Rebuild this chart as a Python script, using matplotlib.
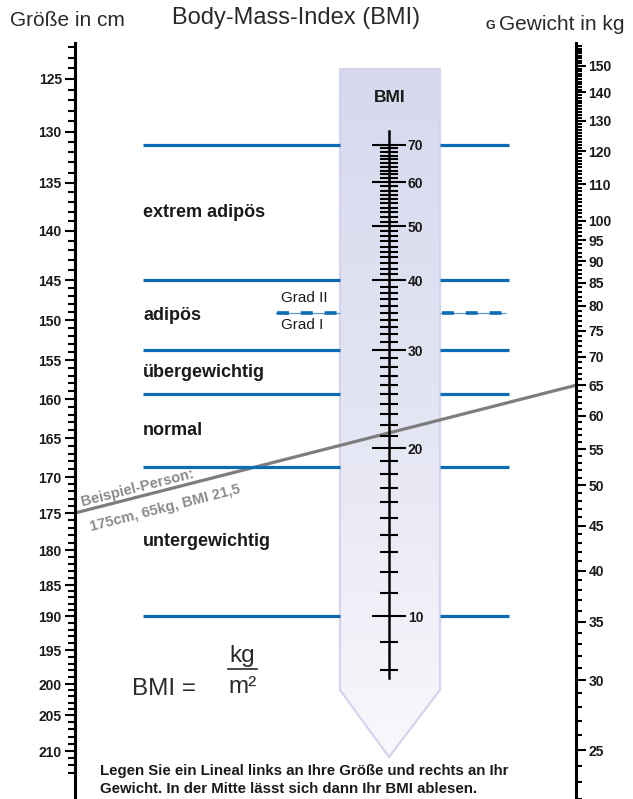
import numpy as np
import matplotlib.pyplot as plt
from matplotlib.patches import Polygon
from matplotlib.colors import LinearSegmentedColormap
from matplotlib.ticker import NullFormatter

plt.rcParams['font.family'] = ['Liberation Sans', 'DejaVu Sans']

# --- Werte der drei Skalen ---
height_labels = [125, 130, 135, 140, 145, 150, 155, 160, 165, 170,
                 175, 180, 185, 190, 195, 200, 205, 210]
weight_labels = [25, 30, 35, 40, 45, 50, 55, 60, 65, 70, 75, 80, 85, 90, 95,
                 100, 110, 120, 130, 140, 150]
bmi_labels = [10, 20, 30, 40, 50, 60, 70]

# Kategoriegrenzen (BMI) und Namen
bmi_bounds = [70, 40, 30, 25, 18.5, 10]
bmi_grad = 35
categories = ['extrem adipös', 'adipös', 'übergewichtig', 'normal', 'untergewichtig']

# Beispiel-Person
example_height = 175
example_weight = 65
example_bmi = 21.5

# --- Layout (Pixel, Ursprung oben links) ---
W, H = 633, 799
X_H, X_B, X_W = 75, 389, 576
# Lage der Größen-Beschriftungen (Skala ist im Original nicht ganz logarithmisch)
HEIGHT_PX = [79, 131.7, 182.7, 230.7, 280, 320, 360, 399, 438, 477,
             513, 550, 585, 616, 650, 684, 715, 751]
BLUE = '#0b6cb4'
GREY = '#7d7d7d'
TXT = '#1a1a1a'

hv = np.array(height_labels, float)
hp = np.array(HEIGHT_PX, float)
s_lo = (hp[1] - hp[0]) / (hv[1] - hv[0])
s_hi = (hp[-1] - hp[-2]) / (hv[-1] - hv[-2])


def h_fwd(v):
    v = np.asarray(v, float)
    out = np.interp(v, hv, hp)
    out = np.where(v < hv[0], hp[0] + (v - hv[0]) * s_lo, out)
    return np.where(v > hv[-1], hp[-1] + (v - hv[-1]) * s_hi, out)


def h_inv(p):
    p = np.asarray(p, float)
    out = np.interp(p, hp, hv)
    out = np.where(p < hp[0], hv[0] + (p - hp[0]) / s_lo, out)
    return np.where(p > hp[-1], hv[-1] + (p - hp[-1]) / s_hi, out)


def log_map(v1, p1, v2, p2):
    k = (p2 - p1) / (np.log10(v2) - np.log10(v1))
    return lambda p: 10 ** (np.log10(v1) + (p - p1) / k)


w_val = log_map(150, 66, 25, 750)
b_val = log_map(70, 145, 10, 616)

fig = plt.figure(figsize=(W / 100, H / 100), dpi=100)
bg = fig.add_axes([0, 0, 1, 1])
bg.set_xlim(0, W)
bg.set_ylim(H, 0)
bg.axis('off')


def scale_ax():
    ax = fig.add_axes([0, 0, 1, 1], facecolor='none')
    ax.set_xlim(0, W)
    for s in ax.spines.values():
        s.set_visible(False)
    ax.set_xticks([])
    return ax


# BMI-Säule mit Verlauf
box = Polygon([(340, 69), (440, 69), (440, 690), (389, 757), (340, 690)],
              closed=True, facecolor='none', edgecolor='#d4d5ec', lw=1.6, zorder=2)
bg.add_patch(box)
cmap = LinearSegmentedColormap.from_list('bmi', ['#d6d8ee', '#e4e5f3', '#f8f8fc'])
im = bg.imshow(np.linspace(0, 1, 256)[:, None], cmap=cmap, extent=(340, 440, 757, 69),
               aspect='auto', zorder=1)
im.set_clip_path(box)

# Größe (links)
ax_h = scale_ax()
ax_h.set_yscale('function', functions=(h_fwd, h_inv))
ax_h.set_ylim(float(h_inv(H)), float(h_inv(0)))
sp = ax_h.spines['left']
sp.set_visible(True)
sp.set_position(('data', X_H))
sp.set_linewidth(2.2)
sp.set_bounds(float(h_inv(43)), float(h_inv(H)))
ax_h.set_yticks(height_labels, labels=[str(v) for v in height_labels],
                fontweight='bold', fontsize=10, color=TXT)
ax_h.set_yticks([v for v in range(122, 214) if v % 5], minor=True)
ax_h.yaxis.set_minor_formatter(NullFormatter())
ax_h.tick_params(axis='y', which='major', length=7.5, width=1.5, pad=2)
ax_h.tick_params(axis='y', which='minor', length=5, width=1.5)

# Gewicht (rechts)
ax_w = scale_ax()
ax_w.set_yscale('log')
ax_w.set_ylim(w_val(H), w_val(0))
sp = ax_w.spines['right']
sp.set_visible(True)
sp.set_position(('data', X_W))
sp.set_linewidth(2.2)
sp.set_bounds(w_val(H), w_val(43))
ax_w.yaxis.set_ticks_position('right')
ax_w.set_yticks(weight_labels, labels=[str(v) for v in weight_labels],
                fontweight='bold', fontsize=10, color=TXT)
ax_w.set_yticks([v for v in range(22, 159) if v not in weight_labels], minor=True)
ax_w.yaxis.set_minor_formatter(NullFormatter())
ax_w.tick_params(axis='y', which='major', length=7.5, width=1.5, pad=1.5)
ax_w.tick_params(axis='y', which='minor', length=4, width=1.5)

# BMI (Mitte)
ax_b = scale_ax()
ax_b.set_yscale('log')
ax_b.set_ylim(b_val(H), b_val(0))
sp = ax_b.spines['right']
sp.set_visible(True)
sp.set_position(('data', X_B))
sp.set_linewidth(1.8)
sp.set_bounds(b_val(678), b_val(131))
ax_b.yaxis.set_ticks_position('right')
ax_b.set_yticks(bmi_labels, labels=[str(v) for v in bmi_labels],
                fontweight='bold', fontsize=10, color=TXT)
ax_b.set_yticks([v for v in range(8, 70) if v % 10], minor=True)
ax_b.yaxis.set_minor_formatter(NullFormatter())
ax_b.tick_params(axis='y', which='major', direction='inout', length=24, width=1.5, pad=1.5)
ax_b.tick_params(axis='y', which='minor', direction='inout', length=12.5, width=1.5)

# Kategoriegrenzen
ax_b.hlines(bmi_bounds, 143, 340, color=BLUE, lw=2.3)
ax_b.hlines(bmi_bounds, 440, 509, color=BLUE, lw=2.3)
for x0, x1 in [(275, 340), (440, 506)]:
    ax_b.hlines(bmi_grad, x0, x1, color='#5d9ad3', lw=0.9)
    ax_b.hlines(bmi_grad, x0 + 2, x1, color=BLUE, lw=2.6, linestyles=(0, (3.3, 3.3)))

# Kategorienamen in der Mitte ihres Bereichs
for name, hi, lo in zip(categories, bmi_bounds[:-1], bmi_bounds[1:]):
    ax_b.text(143, np.sqrt(hi * lo), name, fontsize=13, fontweight='bold',
              color=TXT, va='center', ha='left')

ax_b.text(281, b_val(298), 'Grad II', fontsize=11, color=TXT, va='center')
ax_b.text(281, b_val(325), 'Grad I', fontsize=11, color=TXT, va='center')

# Beispiel-Linie über die Skalen
inv = bg.transData.inverted()
p0 = inv.transform(ax_h.transData.transform((X_H, example_height)))
p1 = inv.transform(ax_w.transData.transform((X_W, example_weight)))
bg.plot([p0[0], p1[0]], [p0[1], p1[1]], color=GREY, lw=2.3, zorder=3,
        solid_capstyle='butt')
ang = np.degrees(np.arctan2(p0[1] - p1[1], p1[0] - p0[0]))
bg.text(137, 488, 'Beispiel-Person:', rotation=ang, rotation_mode='anchor',
        ha='center', va='center', fontsize=10.5, fontweight='bold', color='#8a8a8a')
bg.text(165, 508, f'{example_height}cm, {example_weight}kg, BMI {str(example_bmi).replace(".", ",")}',
        rotation=ang, rotation_mode='anchor', ha='center', va='center',
        fontsize=10.5, fontweight='bold', color='#8a8a8a')

# Überschriften
bg.text(296, 18, 'Body-Mass-Index (BMI)', fontsize=17, color='#2a2a2a', ha='center', va='center')
bg.text(10, 20, 'Größe in cm', fontsize=15, color='#2a2a2a', ha='left', va='center')
bg.text(486, 26, 'G', fontsize=9, fontweight='bold', color='#2a2a2a', ha='left', va='center')
bg.text(499, 24, 'Gewicht in kg', fontsize=15, color='#2a2a2a', ha='left', va='center')
bg.text(390, 97, 'BMI', fontsize=12.5, fontweight='bold', color=TXT, ha='center', va='center',
        zorder=4)

# Formel
bg.text(132, 689, 'BMI =', fontsize=17.5, color='#2a2a2a', ha='left', va='center')
bg.text(242, 656, 'kg', fontsize=17.5, color='#2a2a2a', ha='center', va='center')
bg.plot([228, 257], [669, 669], color='#2a2a2a', lw=1.2)
bg.text(243, 687, 'm²', fontsize=17.5, color='#2a2a2a', ha='center', va='center')

# Hinweis
bg.text(100, 771, 'Legen Sie ein Lineal links an Ihre Größe und rechts an Ihr',
        fontsize=10.8, fontweight='bold', color=TXT, ha='left', va='center')
bg.text(100, 789, 'Gewicht. In der Mitte lässt sich dann Ihr BMI ablesen.',
        fontsize=10.8, fontweight='bold', color=TXT, ha='left', va='center')

fig.savefig('out.png', dpi=100)
